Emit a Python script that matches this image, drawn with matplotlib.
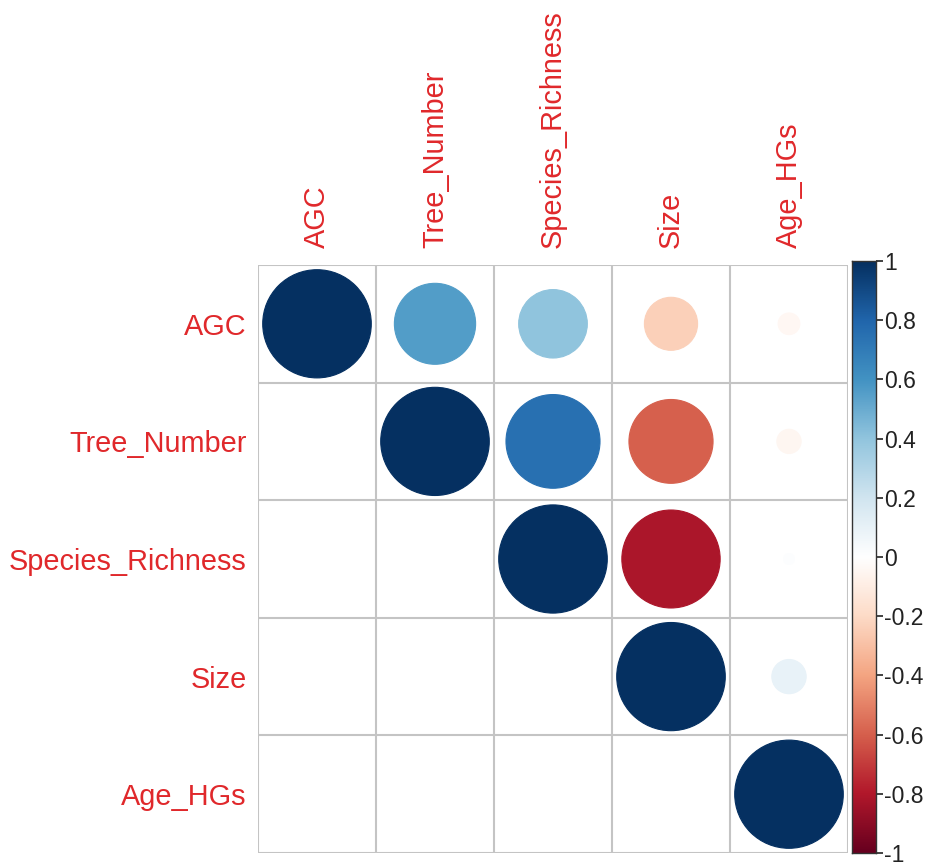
import numpy as np
import matplotlib.pyplot as plt
from matplotlib.colors import LinearSegmentedColormap
from matplotlib.patches import Circle
import matplotlib as mpl

plt.rcParams['font.family'] = ['Liberation Sans', 'DejaVu Sans']

labels = ['AGC', 'Tree_Number', 'Species_Richness', 'Size', 'Age_HGs']

# upper triangle of the correlation matrix, row by row
corr = np.array([
    [1.00, 0.56, 0.40, -0.24, -0.04],
    [0.56, 1.00, 0.75, -0.60, -0.05],
    [0.40, 0.75, 1.00, -0.82, 0.01],
    [-0.24, -0.60, -0.82, 1.00, 0.10],
    [-0.04, -0.05, 0.01, 0.10, 1.00],
])

cbar_ticks = [-1, -0.8, -0.6, -0.4, -0.2, 0, 0.2, 0.4, 0.6, 0.8, 1]
cbar_labels = ['-1', '-0.8', '-0.6', '-0.4', '-0.2', '0', '0.2', '0.4', '0.6', '0.8', '1']

rdbu = ['#67001F', '#B2182B', '#D6604D', '#F4A582', '#FDDBC7', '#FFFFFF',
        '#D1E5F0', '#92C5DE', '#4393C3', '#2166AC', '#053061']
cmap = LinearSegmentedColormap.from_list('corr', rdbu)
norm = mpl.colors.Normalize(-1, 1)

fig = plt.figure(figsize=(9.26, 8.65), dpi=100)
ax = fig.add_axes([258 / 926, 1 - 853 / 865, 590 / 926, 588 / 865])

n = len(labels)
ax.set_xlim(0, n)
ax.set_ylim(n, 0)

grid_col = '#C4C4C4'
for k in range(n + 1):
    ax.axhline(k, color=grid_col, lw=1.5, zorder=1)
    ax.axvline(k, color=grid_col, lw=1.5, zorder=1)

for i in range(n):
    for j in range(i, n):
        r = corr[i, j]
        rad = 0.46 * np.sqrt(abs(r))
        c = cmap(norm(r))
        ax.add_patch(Circle((j + 0.5, i + 0.5), rad, facecolor=c,
                            edgecolor=c, lw=0.8, zorder=2))

txt_col = '#E0282B'
ax.set_xticks(np.arange(n) + 0.5)
ax.set_yticks(np.arange(n) + 0.5)
ax.xaxis.tick_top()
ax.set_xticklabels(labels, rotation=90, color=txt_col, fontsize=20.8)
ax.set_yticklabels(labels, color=txt_col, fontsize=20.8)
ax.tick_params(axis='x', length=0, pad=12)
ax.tick_params(axis='y', length=0, pad=8)
for s in ax.spines.values():
    s.set_visible(False)

# colour legend
cax = fig.add_axes([852 / 926, 1 - 853 / 865, 24 / 926, 592 / 865])
grad = np.linspace(-1, 1, 256).reshape(-1, 1)
cax.imshow(grad, aspect='auto', cmap=cmap, norm=norm, origin='lower',
           extent=[0, 1, -1, 1])
cax.set_xticks([])
cax.yaxis.tick_right()
cax.set_yticks(cbar_ticks)
cax.set_yticklabels(cbar_labels, fontsize=16.5, color='#222222')
cax.tick_params(axis='y', length=5, width=1.2, pad=1, color='#222222')
for s in cax.spines.values():
    s.set_color('#333333')
    s.set_linewidth(1.0)

fig.savefig('out.png', dpi=100)
